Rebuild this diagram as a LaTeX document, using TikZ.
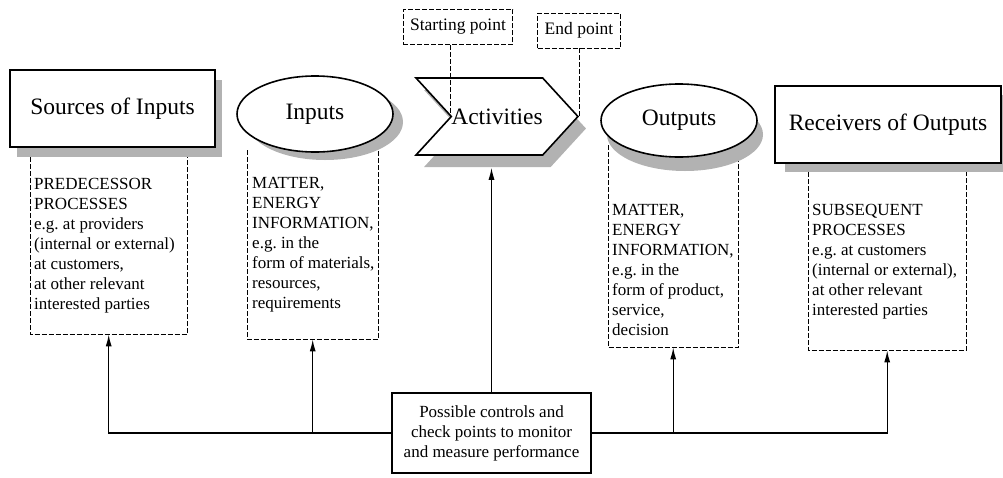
\documentclass[tikz,border=0pt]{standalone}
\usepackage{fontspec}
\setmainfont{Liberation Serif}
\frenchspacing
\usetikzlibrary{shapes.geometric,shapes.symbols,shadows,arrows.meta}

\begin{document}
\begin{tikzpicture}[x=1pt,y=-1pt,
  head/.style={draw,line width=1.6pt,fill=white,inner sep=0pt,font=\fontsize{23.5}{26}\selectfont},
  boxshadow/.style 2 args={drop shadow={shadow xshift=#1,shadow yshift=#2,fill=gray!60,opacity=1}},
  frame/.style={inner sep=0pt,anchor=north west},
  body/.style={align=left,inner sep=0pt,anchor=west,font=\fontsize{17}{20}\selectfont},
  dashline/.style={line width=0.8pt,dash pattern=on 5pt off 2pt},
  tag/.style={draw,dashline,inner xsep=7pt,minimum height=35pt,font=\fontsize{17.5}{20}\selectfont},
  ctrl/.style={line width=1.2pt,-{Latex[length=12pt,width=6pt]}}]
    \useasboundingbox (0,0) rectangle (1003,477);
    \node[frame,minimum width=157pt,minimum height=177pt] (srcinfo) at (30,157) {};
    \node[frame,minimum width=131pt,minimum height=189pt] (inpinfo) at (247,150) {};
    \node[frame,minimum width=130pt,minimum height=202pt] (outpinfo) at (608,145) {};
    \node[frame,minimum width=158pt,minimum height=178pt] (recvinfo) at (808,172) {};
    \foreach \n in {srcinfo,inpinfo,outpinfo,recvinfo}
      \draw[dashline] (\n.north west) |- (\n.south east) -- (\n.north east);
    \node[body] (srctext) at ([xshift=4pt]srcinfo.west) {PREDECESSOR\\PROCESSES\\e.g. at providers\\(internal or external)\\at customers,\\at other relevant\\interested parties};
    \node[body] (inptext) at ([xshift=5pt]inpinfo.west) {MATTER,\\ENERGY\\INFORMATION,\\e.g. in the\\form of materials,\\resources,\\requirements};
    \node[body] (outptext) at ([xshift=4pt,yshift=-24pt]outpinfo.west) {MATTER,\\ENERGY\\INFORMATION,\\e.g. in the\\form of product,\\service,\\decision};
    \node[body] (recvtext) at ([xshift=4pt]recvinfo.west) {SUBSEQUENT\\PROCESSES\\e.g. at customers\\(internal or external),\\at other relevant\\interested parties};
    \node[head,boxshadow={7pt}{-10pt},minimum width=205pt,minimum height=77pt] (src) at (112.5,108.5) {Sources of Inputs};
    \node[head,ellipse,boxshadow={10pt}{-8pt},minimum width=156pt,minimum height=76pt] (inp) at (315,114) {Inputs};
    \node[head,signal,signal from=west,signal to=east,signal pointer angle=95,boxshadow={8pt}{-12pt},minimum width=160pt,minimum height=77pt] (act) at (497,116.5) {Activities};
    \node[head,ellipse,boxshadow={6pt}{-14pt},minimum width=156pt,minimum height=73pt] (outp) at (679,120.5) {Outputs};
    \node[head,boxshadow={10pt}{-9pt},minimum width=226pt,minimum height=77pt] (recv) at (888,124.5) {Receivers of Outputs};
    \node[tag] (startpt) at (458,27) {Starting point};
    \node[tag] (endpt) at (579,30.5) {End point};
    \draw[dashline] (act.west |- startpt.south) -- (act.west);
    \draw[dashline] (act.east |- endpt.south) -- (act.east);
    \node[draw,line width=1.6pt,fill=white,align=center,inner sep=0pt,minimum width=199pt,minimum height=80pt,font=\fontsize{17}{20}\selectfont] (ctl) at (491.5,433) {Possible controls and\\check points to monitor\\and measure performance};
    \coordinate (actfoot) at ([yshift=-12pt]act.south);
    \draw[ctrl] (ctl.west) -| (srcinfo.south);
    \draw[ctrl] (ctl.west -| inpinfo.south) -- (inpinfo.south);
    \draw[ctrl] (ctl.east) -| (recvinfo.south);
    \draw[ctrl] (ctl.east -| outpinfo.south) -- (outpinfo.south);
    \draw[ctrl] (ctl.north) -- (ctl.north |- actfoot);
\end{tikzpicture}
\end{document}
